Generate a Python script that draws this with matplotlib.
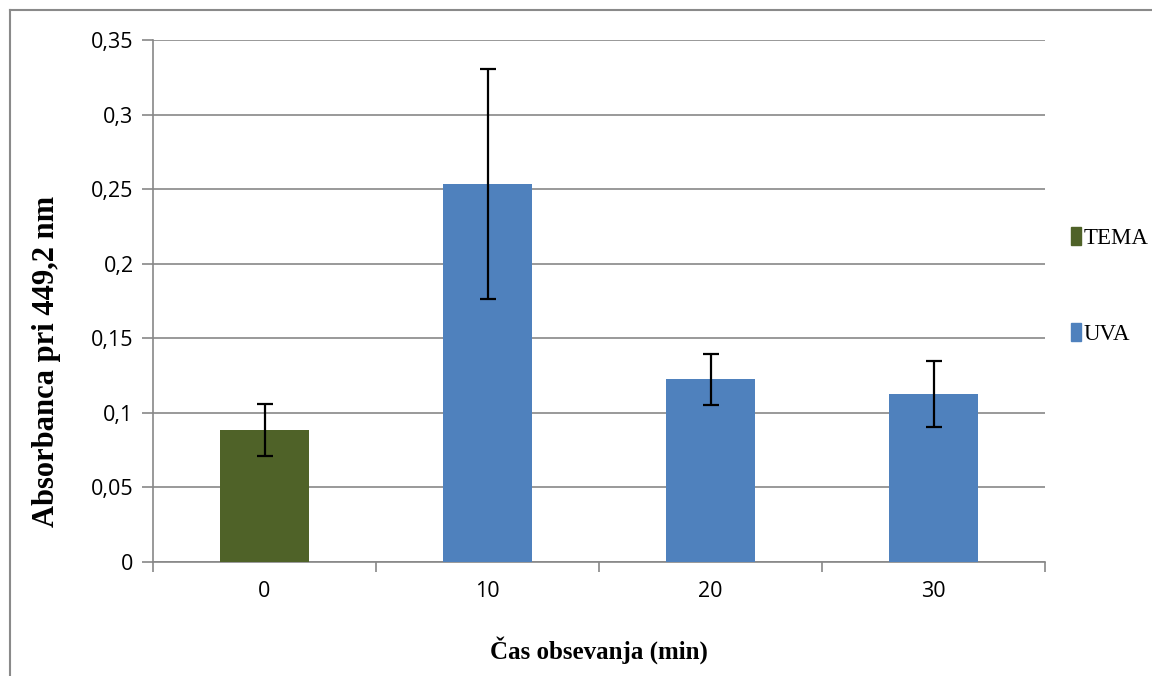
import matplotlib.pyplot as plt
from matplotlib.lines import Line2D
from matplotlib.patches import Patch
import numpy as np

categories = ['0', '10', '20', '30']
means = [0.0885, 0.2535, 0.1225, 0.1125]
errors = [0.0175, 0.077, 0.0170, 0.022]
groups = ['TEMA', 'UVA', 'UVA', 'UVA']
group_colors = {'TEMA': '#4F6228', 'UVA': '#4F81BD'}
yticks = [0, 0.05, 0.1, 0.15, 0.2, 0.25, 0.3, 0.35]
ytick_labels = ['0', '0,05', '0,1', '0,15', '0,2', '0,25', '0,3', '0,35']

grid_col = '#878787'

fig = plt.figure(figsize=(11.52, 6.76), dpi=100)
ax = fig.add_axes([153 / 1152, 1 - 562 / 676, 892 / 1152, 522 / 676])

x = np.arange(len(categories))
colors = [group_colors[g] for g in groups]
ax.bar(x, means, width=0.4, color=colors, zorder=3)
ax.errorbar(x, means, yerr=errors, fmt='none', ecolor='black',
            elinewidth=1.6, capsize=6, capthick=1.6, zorder=4)

ax.set_xlim(-0.5, len(categories) - 0.5)
ax.set_ylim(0, 0.35)
ax.set_yticks(yticks)
ax.set_yticklabels(ytick_labels)
ax.set_xticks(x)
ax.set_xticklabels(categories)
ax.set_xticks(np.arange(-0.5, len(categories), 1), minor=True)
ax.tick_params(axis='x', which='major', length=0, pad=14)
ax.tick_params(axis='x', which='minor', length=7, width=1.2, color=grid_col)
ax.tick_params(axis='y', length=8, width=1.2, color=grid_col, pad=6)
for lab in ax.get_xticklabels() + ax.get_yticklabels():
    lab.set_fontfamily('Open Sans')
    lab.set_fontsize(15.5)

ax.yaxis.grid(True, color=grid_col, linewidth=1.2, zorder=0)
ax.set_axisbelow(True)
for s in ['top', 'right']:
    ax.spines[s].set_visible(False)
for s in ['left', 'bottom']:
    ax.spines[s].set_color(grid_col)
    ax.spines[s].set_linewidth(1.2)

ax.set_xlabel('Čas obsevanja (min)', fontfamily='Liberation Serif',
              fontweight='bold', fontsize=18, labelpad=24)
ax.set_ylabel('Absorbanca pri 449,2 nm', fontfamily='Liberation Serif',
              fontweight='bold', fontsize=22)
ax.yaxis.set_label_coords(-0.103, 0.385)

handles = [Patch(color=group_colors[g]) for g in ['TEMA', 'UVA']]
fig.legend(handles, ['TEMA', 'UVA'], loc='upper left',
           bbox_to_anchor=(1062 / 1152, 1 - 218 / 676), frameon=False,
           prop={'family': 'Liberation Serif', 'size': 16.5},
           handlelength=0.45, handleheight=0.8, handletextpad=0.1,
           labelspacing=3.25, borderaxespad=0)

fig.add_artist(Line2D([10 / 1152, 10 / 1152], [0, 1 - 10 / 676],
                      color='#8a8a8a', linewidth=1.5))
fig.add_artist(Line2D([10 / 1152, 1], [1 - 10 / 676, 1 - 10 / 676],
                      color='#8a8a8a', linewidth=1.5))

fig.savefig('out.png', dpi=100)
